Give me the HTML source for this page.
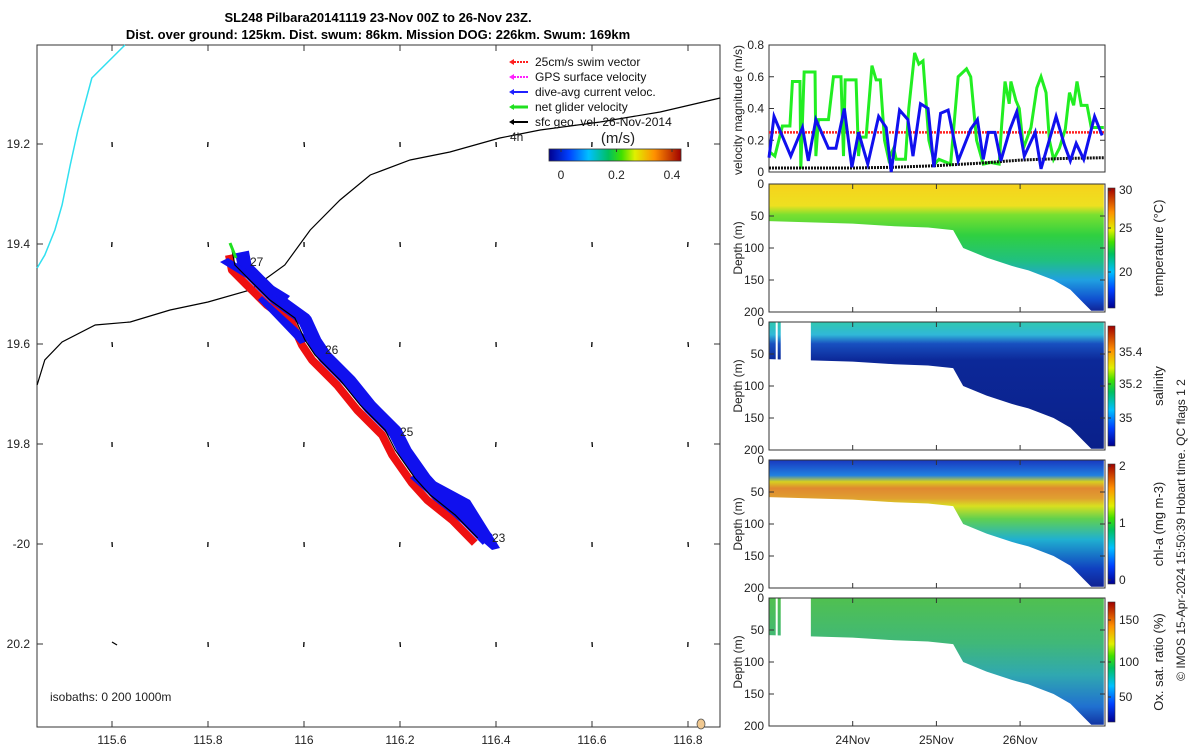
<!DOCTYPE html>
<html><head><meta charset="utf-8"><style>
html,body{margin:0;padding:0;background:#fff;}
svg{display:block;font-family:"Liberation Sans",sans-serif;}
</style></head><body>
<svg id="s" width="1200" height="750" viewBox="0 0 1200 750">
<defs>
<linearGradient id="jet" x1="0" y1="0" x2="1" y2="0">
<stop offset="0" stop-color="#00008f"/><stop offset="0.15" stop-color="#0040ff"/><stop offset="0.3" stop-color="#00c0ff"/><stop offset="0.45" stop-color="#00c060"/><stop offset="0.55" stop-color="#40e000"/><stop offset="0.65" stop-color="#e0f000"/><stop offset="0.8" stop-color="#ff9000"/><stop offset="1" stop-color="#a00000"/>
</linearGradient>
<linearGradient id="jetv" x1="0" y1="1" x2="0" y2="0">
<stop offset="0" stop-color="#00008f"/><stop offset="0.15" stop-color="#0040ff"/><stop offset="0.3" stop-color="#00c0ff"/><stop offset="0.45" stop-color="#00c060"/><stop offset="0.55" stop-color="#40e000"/><stop offset="0.65" stop-color="#e0f000"/><stop offset="0.8" stop-color="#ff9000"/><stop offset="1" stop-color="#a00000"/>
</linearGradient>
<linearGradient id="gT" gradientUnits="userSpaceOnUse" x1="0" y1="184" x2="0" y2="312">
<stop offset="0" stop-color="#f6d21c"/><stop offset="0.17" stop-color="#eee020"/><stop offset="0.24" stop-color="#7ae030"/><stop offset="0.4" stop-color="#30d040"/><stop offset="0.6" stop-color="#20c080"/><stop offset="0.75" stop-color="#20a0e0"/><stop offset="0.9" stop-color="#1050d0"/><stop offset="1" stop-color="#10208f"/>
</linearGradient>
<linearGradient id="gS" gradientUnits="userSpaceOnUse" x1="0" y1="322" x2="0" y2="450">
<stop offset="0" stop-color="#30c8b0"/><stop offset="0.1" stop-color="#30b8d8"/><stop offset="0.17" stop-color="#1850c0"/><stop offset="0.3" stop-color="#0c2898"/><stop offset="1" stop-color="#0a208a"/>
</linearGradient>
<linearGradient id="gC" gradientUnits="userSpaceOnUse" x1="0" y1="460" x2="0" y2="588">
<stop offset="0" stop-color="#1838c0"/><stop offset="0.12" stop-color="#2080e0"/><stop offset="0.17" stop-color="#d8d020"/><stop offset="0.22" stop-color="#e08830"/><stop offset="0.3" stop-color="#e0a030"/><stop offset="0.36" stop-color="#d8e020"/><stop offset="0.46" stop-color="#60d050"/><stop offset="0.62" stop-color="#20b0d0"/><stop offset="0.85" stop-color="#1040c0"/><stop offset="1" stop-color="#10208f"/>
</linearGradient>
<linearGradient id="gO" gradientUnits="userSpaceOnUse" x1="0" y1="598" x2="0" y2="726">
<stop offset="0" stop-color="#50c050"/><stop offset="0.35" stop-color="#40b878"/><stop offset="0.6" stop-color="#30a8b0"/><stop offset="0.85" stop-color="#2070d0"/><stop offset="1" stop-color="#1030a0"/>
</linearGradient>
</defs>
<g id="g"></g>
</svg>
<script>
// ---- velocity data (days since 23-Nov 00Z, m/s)
const greenT=[0,0.07,0.16,0.25,0.28,0.37,0.38,0.42,0.55,0.56,0.59,0.71,0.77,0.86,0.89,0.91,1.04,1.07,1.09,1.16,1.23,1.28,1.33,1.38,1.43,1.49,1.52,1.63,1.67,1.74,1.79,1.84,1.91,1.98,2.03,2.17,2.26,2.36,2.41,2.48,2.56,2.65,2.75,2.78,2.82,2.87,2.89,2.95,2.99,3.04,3.13,3.20,3.25,3.31,3.35,3.40,3.47,3.54,3.59,3.64,3.68,3.73,3.80,3.85,4.0];
const greenV=[0.13,0.10,0.29,0.29,0.57,0.57,0.02,0.63,0.63,0.10,0.33,0.33,0.60,0.60,0.10,0.58,0.58,0.10,0.22,0.22,0.67,0.58,0.58,0.20,0.08,0.15,0.08,0.08,0.40,0.75,0.68,0.70,0.20,0.05,0.08,0.05,0.60,0.65,0.60,0.20,0.05,0.06,0.05,0.30,0.57,0.43,0.57,0.45,0.40,0.15,0.28,0.53,0.60,0.50,0.20,0.08,0.15,0.27,0.50,0.42,0.57,0.42,0.42,0.28,0.28];
const blueT=[0,0.06,0.26,0.40,0.47,0.56,0.71,0.80,0.90,0.99,1.07,1.18,1.31,1.40,1.46,1.56,1.66,1.72,1.81,1.90,1.97,2.05,2.14,2.26,2.41,2.49,2.56,2.62,2.70,2.77,2.88,2.96,3.05,3.18,3.25,3.43,3.53,3.60,3.67,3.76,3.89,3.98];
const blueV=[0.09,0.35,0.10,0.28,0.07,0.33,0.15,0.15,0.40,0.03,0.25,0.05,0.35,0.28,0.00,0.39,0.33,0.10,0.43,0.40,0.03,0.37,0.39,0.07,0.27,0.33,0.08,0.25,0.25,0.07,0.27,0.38,0.10,0.25,0.02,0.35,0.17,0.07,0.18,0.08,0.35,0.23];
const blackT=[0,1,1.5,2,2.5,3,3.5,4];
const blackV=[0.025,0.025,0.03,0.04,0.055,0.075,0.085,0.09];
const swimV=0.25;
const velTicks=[0,0.2,0.4,0.6,0.8];
// ---- section data
const bottomT=[0,0.5,1,1.5,1.9,2.2,2.32,2.6,2.9,3.1,3.4,3.6,3.75,3.85,4.0];
const bottomD=[58,60,62,66,68,72,100,115,128,135,150,165,185,198,198];
const depthTicks=[0,50,100,150,200];
const dayTicks=[1,2,3];
const dayLabels=['24Nov','25Nov','26Nov'];
// ---- map data
const coastLon=[115.444,115.460,115.481,115.496,115.513,115.529,115.558,115.627];
const coastLat=[19.448,19.422,19.372,19.322,19.242,19.172,19.068,19.002];
const isoLon=[115.444,115.460,115.496,115.565,115.638,115.721,115.800,115.888,115.960,116.013,116.075,116.138,116.221,116.304,116.408,116.492,116.617,116.742,116.867];
const isoLat=[19.682,19.632,19.596,19.562,19.556,19.532,19.516,19.492,19.442,19.372,19.312,19.262,19.232,19.216,19.188,19.172,19.156,19.136,19.108];
const trackLon=[116.362,116.315,116.263,116.231,116.190,116.169,116.117,116.075,116.023,116.002,115.981,115.929,115.887,115.856,115.850];
const trackLat=[19.988,19.942,19.902,19.868,19.812,19.772,19.722,19.672,19.622,19.592,19.548,19.512,19.472,19.442,19.412];
const lonTicks=[115.6,115.8,116,116.2,116.4,116.6,116.8];
const latTicks=[19.2,19.4,19.6,19.8,20.0,20.2];
const latLabels=['19.2','19.4','19.6','19.8','-20','20.2'];
const colorTicks=[0,0.2,0.4];

const NS='http://www.w3.org/2000/svg';
const G=document.getElementById('g');
function el(tag,attrs,parent){const e=document.createElementNS(NS,tag);for(const k in attrs)e.setAttribute(k,attrs[k]);(parent||G).appendChild(e);return e;}
function txt(x,y,s,size,anchor,extra){const t=el('text',Object.assign({x:x,y:y,'font-size':size||12,'text-anchor':anchor||'start',fill:'#222'},extra||{}));t.textContent=s;return t;}

// map axes
const mx=lon=>304+(lon-116)*480, my=lat=>144+(lat-19.2)*500;
let f=el('rect',{x:37,y:45,width:683,height:682,fill:'#fff',stroke:'#333','stroke-width':1});


lonTicks.forEach((v,i)=>{const x=mx(v);el('line',{x1:x,y1:727,x2:x,y2:721,stroke:'#333'});el('line',{x1:x,y1:45,x2:x,y2:51,stroke:'#333'});
 const t=txt(x,744,String(v),12,'middle');});
latTicks.forEach((v,i)=>{const y=my(v);el('line',{x1:37,y1:y,x2:43,y2:y,stroke:'#333'});el('line',{x1:714,y1:y,x2:720,y2:y,stroke:'#333'});
 const t=txt(30,y+4,latLabels[i],12,'end');});
// current arrows grid
const arrowU=[0.2,-0.3,0.4,0.1,0.3,-0.2];
lonTicks.forEach((lo,i)=>latTicks.forEach((la,j)=>{const x=mx(lo),y=my(la);const u=(j===5&&i===0)?5:arrowU[(i+j)%6];const v=(j===5&&i===0)?3:5;
 const a=el('line',{x1:x,y1:y-2,x2:x+u,y2:y-2+v,stroke:'#000','stroke-width':1.3});}));
// coast and isobath
const pts=(lo,la)=>lo.map((v,i)=>mx(v)+','+my(la[i])).join(' ');
let c=el('polyline',{points:pts(coastLon,coastLat),fill:'none',stroke:'#30e0f0','stroke-width':1.5});

c=el('polyline',{points:pts(isoLon,isoLat),fill:'none',stroke:'#000','stroke-width':1.2});

// swaths
const off=(dx,dy)=>trackLon.map((v,i)=>(mx(v)+dx)+','+(my(trackLat[i])+dy)).join(' ');
c=el('polyline',{points:off(10,2),fill:'none',stroke:'#1010ee','stroke-width':14,'stroke-linejoin':'bevel'});

c=el('polyline',{points:off(-3,5),fill:'none',stroke:'#ee1010','stroke-width':8,'stroke-linejoin':'round'});

c=el('polygon',{points:'220,262 228,258 290,296 285,302',fill:'#1010ee'});

c=el('polygon',{points:'258,300 262,296 310,340 300,344',fill:'#1010ee'});

c=el('polygon',{points:'410,478 418,472 470,500 500,548 492,550',fill:'#1010ee'});

c=el('polyline',{points:off(0,0),fill:'none',stroke:'#000','stroke-width':1.2});

c=el('line',{x1:230,y1:243,x2:236,y2:258,stroke:'#20e020','stroke-width':3});

[['27',250,266],['26',325,354],['25',400,436],['23',492,542]].forEach(d=>{const t=txt(d[1],d[2],d[0],12);});
let t=txt(50,701,'isobaths: 0   200   1000m',12);
t=txt(510,141,'4h',12);
c=el('ellipse',{cx:701,cy:724,rx:4,ry:5,fill:'#f0c890',stroke:'#555','stroke-width':0.8});

// legend
const legC=['#ff2020','#ff20ff','#2020ff','#20e020','#000'];
const legT=['25cm/s swim vector','GPS surface velocity','dive-avg current veloc.','net glider velocity','sfc geo. vel. 26-Nov-2014'];
legC.forEach((col,i)=>{const y=62+i*15;const g=el('g',{});
 el('line',{x1:511,y1:y,x2:528,y2:y,stroke:col,'stroke-width':i==3?3:2,'stroke-dasharray':i<2?'2 1':'none'},g);
 el('polygon',{points:`509,${y} 514,${y-3} 514,${y+3}`,fill:col},g);
 const tt=el('text',{x:535,y:y+4,'font-size':12,fill:'#111'},g);tt.textContent=legT[i];});
// colorbar
t=txt(618,143,'(m/s)',15,'middle');
c=el('rect',{x:549,y:149,width:132,height:12,fill:'url(#jet)',stroke:'#333','stroke-width':0.8});

colorTicks.forEach(v=>{const x=561+v/0.2*55.5;el('line',{x1:x,y1:149,x2:x,y2:152,stroke:'#333'});const tt=txt(x,179,String(v),12,'middle');});
// title
t=txt(378,22,'SL248 Pilbara20141119 23-Nov 00Z to 26-Nov 23Z.',13,'middle',{'font-weight':'bold',fill:'#000'});
t=txt(378,39,'Dist. over ground: 125km. Dist. swum: 86km. Mission DOG: 226km. Swum: 169km',13,'middle',{'font-weight':'bold',fill:'#000'});

// right panels
const X0=769,X1=1105,PXD=83.7;
const tx=d=>X0+d*PXD;
// velocity
const vy=v=>172-v*158.75;
c=el('rect',{x:X0,y:45,width:X1-X0,height:127,fill:'#fff',stroke:'#333'});

velTicks.forEach(v=>{const y=vy(v);el('line',{x1:X0,y1:y,x2:X0+5,y2:y,stroke:'#333'});el('line',{x1:X1-5,y1:y,x2:X1,y2:y,stroke:'#333'});const tt=txt(764,y+4,String(v),12,'end');});
t=txt(0,0,'velocity magnitude (m/s)',12,'middle',{transform:'translate(742,110) rotate(-90)'});
const line=(T,V)=>T.map((d,i)=>tx(d)+','+vy(V[i])).join(' ');
c=el('line',{x1:X0,y1:vy(swimV),x2:X1,y2:vy(swimV),stroke:'#ff2020','stroke-width':2.5,'stroke-dasharray':'2 1'});

c=el('polyline',{points:line(greenT,greenV),fill:'none',stroke:'#22ee22','stroke-width':3});

c=el('polyline',{points:line(blackT,blackV),fill:'none',stroke:'#111','stroke-width':3,'stroke-dasharray':'2 1'});

c=el('polyline',{points:line(blueT,blueV),fill:'none',stroke:'#1010ee','stroke-width':3});


// sections
const panels=[
 {y:184,grad:'gT',name:'temperature',title:'temperature (°C)',ticks:[['20',272],['25',228],['30',190]],gap:false},
 {y:322,grad:'gS',name:'salinity',title:'salinity',ticks:[['35',418],['35.2',384],['35.4',352]],gap:true},
 {y:460,grad:'gC',name:'chlorophyll',title:'chl-a (mg m-3)',ticks:[['0',580],['1',523],['2',466]],gap:false},
 {y:598,grad:'gO',name:'oxygen',title:'Ox. sat. ratio (%)',ticks:[['50',697],['100',662],['150',620]],gap:true}];
panels.forEach(p=>{
 const dy=d=>p.y+d*0.64;
 const ax=el('rect',{x:X0,y:p.y,width:X1-X0,height:128,fill:'#fff',stroke:'#333'});
 
 let poly=bottomT.map((d,i)=>tx(d)+','+dy(bottomD[i])).join(' ');
 poly=tx(0)+','+p.y+' '+poly+' '+tx(4.0)+','+p.y;
 const a=el('polygon',{points:poly,fill:'url(#'+p.grad+')'});
 
 if(p.gap){const gp=el('rect',{x:tx(0.14),y:p.y,width:tx(0.5)-tx(0.14),height:127,fill:'#fff'});
  el('rect',{x:tx(0.08),y:p.y,width:2,height:50,fill:'#fff'});}
 el('rect',{x:X0,y:p.y,width:X1-X0,height:128,fill:'none',stroke:'#333'});
 depthTicks.forEach(d=>{const y=dy(d);el('line',{x1:X0,y1:y,x2:X0+5,y2:y,stroke:'#333'});el('line',{x1:X1-5,y1:y,x2:X1,y2:y,stroke:'#333'});const tt=txt(764,y+4,String(d),12,'end');});
 dayTicks.forEach(d=>{const x=tx(d);el('line',{x1:x,y1:p.y+128,x2:x,y2:p.y+123,stroke:'#333'});el('line',{x1:x,y1:p.y,x2:x,y2:p.y+5,stroke:'#333'});});
 const tt=txt(0,0,'Depth (m)',12,'middle',{transform:`translate(742,${p.y+64}) rotate(-90)`});
 const cb=el('rect',{x:1108,y:p.y+4,width:7,height:120,fill:'url(#jetv)',stroke:'#333','stroke-width':0.6});
 
 p.ticks.forEach(k=>{el('line',{x1:1108,y1:k[1],x2:1111,y2:k[1],stroke:'#333'});const q=txt(1119,k[1]+4,k[0],12);});
 const ct=txt(0,0,p.title,13,'middle',{transform:`translate(1163,${p.y+64}) rotate(-90)`});
});
dayTicks.forEach((d,i)=>{const q=txt(tx(d),744,dayLabels[i],12,'middle');});
t=txt(0,0,'© IMOS 15-Apr-2024 15:50:39 Hobart time. QC flags 1  2',12,'middle',{transform:'translate(1185,530) rotate(-90)'});

</script>
</body></html>
